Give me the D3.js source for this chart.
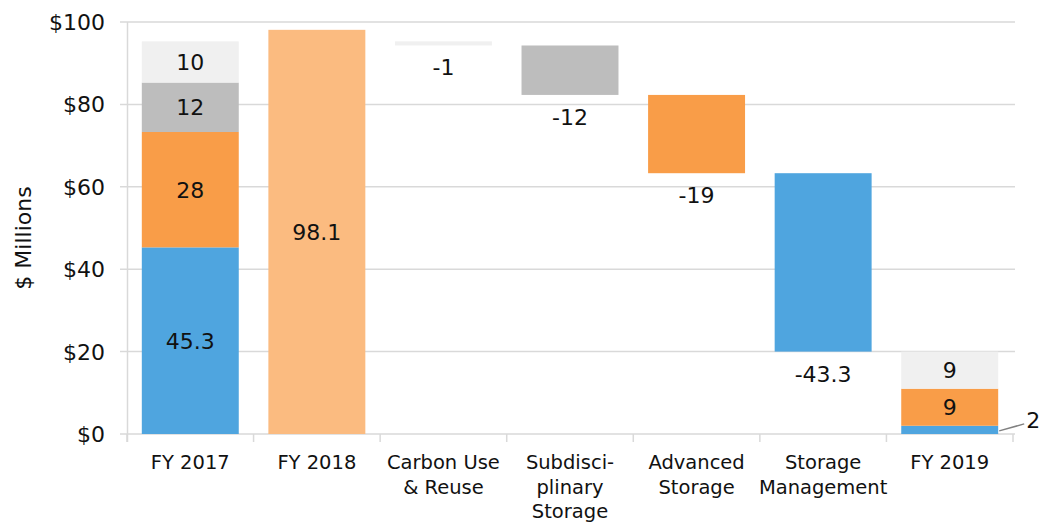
<!DOCTYPE html>
<html>
<head>
<meta charset="utf-8">
<script src="https://cdn.jsdelivr.net/npm/d3@7"></script>
<style>
  body { margin: 0; background: #fff; }
  text { font-family: "DejaVu Sans", "Liberation Sans", sans-serif; fill: #111; }
</style>
</head>
<body>
<script>
'use strict';

// categories along the x axis (line breaks with \n)
const categories = ["FY 2017", "FY 2018", "Carbon Use\n& Reuse", "Subdisci-\nplinary\nStorage",
  "Advanced\nStorage", "Storage\nManagement", "FY 2019"];

// stack series, bottom to top
const seriesNames = ["Storage Management", "Advanced Storage", "Subdisciplinary Storage", "Carbon Use & Reuse"];
const seriesColors = ["#4FA5DF", "#F99D48", "#BDBDBD", "#F0F0F0"];

const fy2017Values = [45.3, 28, 12, 10];
const fy2018Value = 98.1;
const fy2019Values = [2, 9, 0, 9];

// waterfall steps after FY 2018: category index, series index, change
const changeCats = [2, 3, 4, 5];
const changeSeries = [3, 2, 1, 0];
const changeValues = [-1, -12, -19, -43.3];

const yTicks = [0, 20, 40, 60, 80, 100];

const W = 1053, H = 523;
const svg = d3.select('body').append('svg').attr('width', W).attr('height', H);

const x = d3.scaleBand().domain(categories).range([127, 1013])
  .paddingInner(0.234).paddingOuter(0.117);
const y = d3.scaleLinear().domain([0, 100]).range([434, 22]);

// gridlines
svg.append('g').selectAll('line').data(yTicks).enter().append('line')
  .attr('x1', 120).attr('x2', 1015)
  .attr('y1', d => y(d)).attr('y2', d => y(d))
  .attr('stroke', '#D9D9D9').attr('stroke-width', 1.5);

// left axis line
svg.append('line').attr('x1', 127.5).attr('x2', 127.5).attr('y1', y(100)).attr('y2', y(0) + 8)
  .attr('stroke', '#D9D9D9').attr('stroke-width', 1.5);

// category boundary ticks under the axis
const bounds = categories.map(c => x(c) - x.step() * x.paddingInner() / 2);
bounds.push(x(categories[categories.length - 1]) + x.bandwidth() + x.step() * x.paddingInner() / 2);
svg.append('g').selectAll('line').data(bounds).enter().append('line')
  .attr('x1', d => d).attr('x2', d => d).attr('y1', y(0)).attr('y2', y(0) + 8)
  .attr('stroke', '#D9D9D9').attr('stroke-width', 1.5);

// y tick labels
svg.append('g').selectAll('text').data(yTicks).enter().append('text')
  .attr('x', 105).attr('y', d => y(d) + 8)
  .attr('text-anchor', 'end').style('font-size', '22px')
  .text(d => '$' + d);

// y axis title
svg.append('text')
  .attr('transform', 'translate(31, 238) rotate(-90)')
  .attr('text-anchor', 'middle').style('font-size', '22px')
  .text('$ Millions');

// category labels
categories.forEach(c => {
  const t = svg.append('text').attr('text-anchor', 'middle').style('font-size', '19.5px')
    .attr('x', x(c) + x.bandwidth() / 2).attr('y', 469);
  c.split('\n').forEach((line, i) => {
    t.append('tspan').attr('x', x(c) + x.bandwidth() / 2).attr('dy', i === 0 ? 0 : 24.5).text(line);
  });
});

// build stacked segments
function stackSegments(cat, values) {
  let base = 0;
  const segs = [];
  values.forEach((v, i) => {
    if (v > 0) segs.push({ cat: cat, s: i, y0: base, y1: base + v, v: v });
    base += v;
  });
  return segs;
}

const fy17 = stackSegments(categories[0], fy2017Values);
const fy19 = stackSegments(categories[6], fy2019Values);

// waterfall floating bars
let level = d3.sum(fy2017Values);
const steps = changeValues.map((v, i) => {
  const seg = { cat: categories[changeCats[i]], s: changeSeries[i], y0: level + v, y1: level, v: v };
  level += v;
  return seg;
});

const allSegs = fy17.concat(fy19, steps);

svg.append('g').selectAll('rect').data(allSegs).enter().append('rect')
  .attr('x', d => x(d.cat)).attr('width', x.bandwidth())
  .attr('y', d => y(d.y1)).attr('height', d => y(d.y0) - y(d.y1))
  .attr('fill', d => seriesColors[d.s]);

// FY 2018 total bar
svg.append('rect')
  .attr('x', x(categories[1])).attr('width', x.bandwidth())
  .attr('y', y(fy2018Value)).attr('height', y(0) - y(fy2018Value))
  .attr('fill', '#FBBB80');

const labelSize = '22px';

// labels inside stacked bars (skip tiny segments)
svg.append('g').selectAll('text').data(fy17.concat(fy19).filter(d => d.v > 3)).enter().append('text')
  .attr('x', d => x(d.cat) + x.bandwidth() / 2)
  .attr('y', d => (y(d.y0) + y(d.y1)) / 2 + 8)
  .attr('text-anchor', 'middle').style('font-size', labelSize)
  .text(d => d.v);

svg.append('text')
  .attr('x', x(categories[1]) + x.bandwidth() / 2)
  .attr('y', y(fy2018Value / 2) + 8)
  .attr('text-anchor', 'middle').style('font-size', labelSize)
  .text(fy2018Value);

// labels below waterfall steps
svg.append('g').selectAll('text').data(steps).enter().append('text')
  .attr('x', d => x(d.cat) + x.bandwidth() / 2)
  .attr('y', d => y(d.y0) + 30)
  .attr('text-anchor', 'middle').style('font-size', labelSize)
  .text(d => d.v);

// callout for the small FY 2019 segment
const small = fy19.find(d => d.v <= 3);
const sx = x(small.cat) + x.bandwidth();
svg.append('line')
  .attr('x1', sx + 1).attr('y1', y((small.y0 + small.y1) / 2) + 1)
  .attr('x2', sx + 26).attr('y2', y((small.y0 + small.y1) / 2) - 6)
  .attr('stroke', '#808080').attr('stroke-width', 1.5);
svg.append('text')
  .attr('x', sx + 28).attr('y', 428)
  .style('font-size', labelSize)
  .text(small.v);
</script>
</body>
</html>
